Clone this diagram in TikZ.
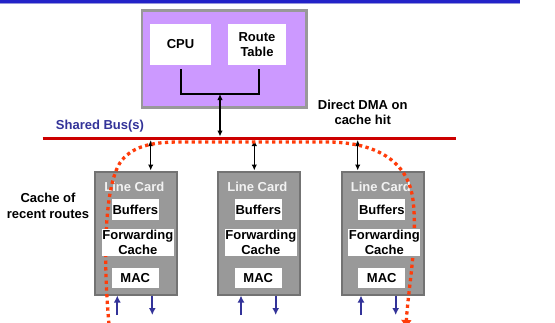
\documentclass[tikz,border=0pt]{standalone}
\usepackage{fontspec}
\setmainfont{Liberation Sans}
\usetikzlibrary{arrows.meta}
\definecolor{purp}{RGB}{204,153,255}
\definecolor{purpborder}{RGB}{153,153,153}
\definecolor{cardfill}{RGB}{153,153,153}
\definecolor{cardborder}{RGB}{115,115,115}
\definecolor{lctext}{RGB}{242,242,242}
\definecolor{topblue}{RGB}{34,34,200}
\definecolor{topblue2}{RGB}{150,150,220}
\definecolor{busred}{RGB}{204,0,0}
\definecolor{navy}{RGB}{51,51,153}
\definecolor{dotred}{RGB}{255,60,10}
\tikzset{
  whitebox/.style={fill=white, draw=none, inner sep=0pt, align=center},
  cardbox/.style={fill=cardfill, draw=cardborder, line width=2pt, minimum width=82pt, minimum height=123pt, inner sep=0pt},
  lclabel/.style={text=lctext, inner sep=0pt},
  blkarrow/.style={line width=1.4pt, {Latex[length=6pt,width=5.5pt]}-{Latex[length=6pt,width=5.5pt]}},
  bluearrow/.style={line width=2.3pt, navy, -{Latex[length=7pt,width=7pt]}},
  plain/.style={inner sep=0pt, align=center}
}
\begin{document}
\begin{tikzpicture}[x=1pt,y=-1pt,font=\bfseries\fontsize{13}{15.5}\selectfont]
\clip (0,0) rectangle (555,322);
\fill[white] (0,0) rectangle (555,322);
% top blue rule
\coordinate (tl) at (0,1.4);
\coordinate (tr) at (520,1.4);
\draw[topblue, line width=2.8pt] (tl) -- (tr);
\draw[topblue2, line width=0.8pt] ([yshift=-1.8pt]tl) -- ([yshift=-1.8pt]tr);
% controller box
\node[fill=purp, draw=purpborder, line width=2.5pt, minimum width=164.5pt, minimum height=97pt, inner sep=0pt] (ctrl) at (224.2,59.2) {};
\node[whitebox, minimum width=61pt, minimum height=41pt] (cpu) at (180.5,44.5) {CPU};
\node[whitebox, minimum width=58pt, minimum height=41pt] (route) at (257,44.5) {Route\\Table};
\coordinate (bra) at (180.7,69);
\coordinate (brb) at (259.3,69);
\coordinate (bjoin) at (220,94);
\draw[line width=2pt] (bra) |- (brb |- bjoin) -- (brb);
% shared bus
\coordinate (busL) at (42.5,138.3);
\coordinate (busR) at (456,138.3);
\draw[busred, line width=3.2pt] (busL) -- (busR);
\coordinate (busA) at (220,136.5);
\draw[blkarrow] (bjoin) -- (busA);
\node[plain, text=navy] (sharedlbl) at (100,125.7) {Shared Bus(s)};
\node[plain] (dmalbl) at (362.7,112.5) {Direct DMA on\\cache hit};
\node[plain] (cachelbl) at (48,206) {Cache of\\recent routes};
% line cards
\foreach \n/\cx/\bx/\ux/\dx in {1/136/150.7/117.3/152.3, 2/259/254.3/241/275.7, 3/382.5/357.7/361/395.7} {
  \node[cardbox] (card\n) at (\cx,233) {};
  \node[lclabel] (lc\n) at (\cx-1.7,186.7) {Line Card};
  \coordinate (top\n) at (\bx,140);
  \draw[blkarrow] (top\n) -- (top\n |- card\n.north);
  \coordinate (in\n) at (\ux,315);
  \draw[bluearrow] (in\n) -- (in\n |- card\n.south);
  \coordinate (out\n) at (\dx,315);
  \draw[bluearrow] (out\n |- card\n.south) -- (out\n);
}
% dotted cache path
\coordinate (dotS) at (109,324);
\coordinate (dotE) at (406,327);
\draw[dotred, line width=3.3pt, dash pattern=on 3.3pt off 3.4pt, -{Triangle[width=10pt,length=7pt]}]
  (dotS) .. controls (103,260) and (104,182) .. (122,160)
  .. controls (134,146) and (152,142) .. (180,142) -- (330,142)
  .. controls (375,143) and (408,160) .. (413,200)
  .. controls (418,240) and (408,290) .. (dotE);
% white boxes inside the line cards
\foreach \n/\cx in {1/136, 2/259, 3/382.5} {
  \node[whitebox, minimum width=46.7pt, minimum height=20.7pt] (buf\n) at (\cx-0.7,209.7) {Buffers};
  \node[whitebox, minimum width=71.7pt, minimum height=27pt] (fwd\n) at (\cx+1.8,242.5) {Forwarding\\Cache};
  \node[whitebox, minimum width=46.7pt, minimum height=20pt] (mac\n) at (\cx-0.7,278.3) {MAC};
}
\end{tikzpicture}
\end{document}
